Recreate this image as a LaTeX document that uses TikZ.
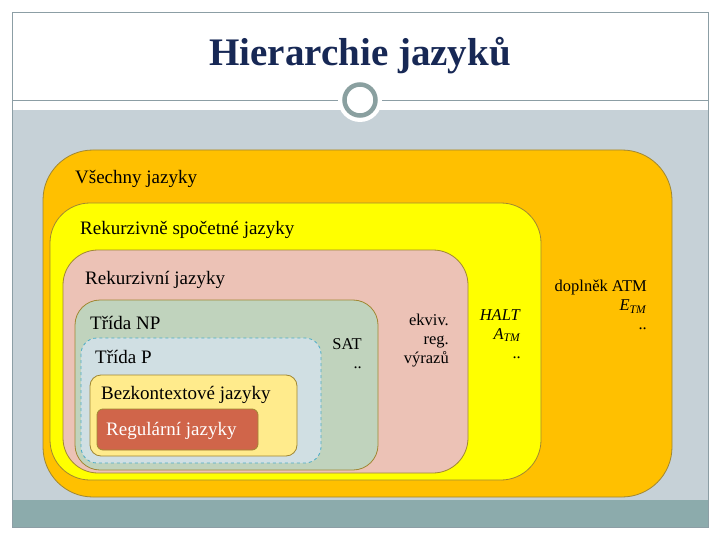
\documentclass[tikz,border=0pt]{standalone}
\usepackage{fontspec}
\usepackage{tikz}
\usepackage{xcolor}
\setmainfont{Liberation Serif}
\definecolor{navy}{RGB}{23,40,85}
\definecolor{frame}{RGB}{140,158,165}
\definecolor{band}{RGB}{198,209,215}
\definecolor{teal}{RGB}{140,171,172}
\definecolor{ring}{RGB}{138,160,160}
\definecolor{edge}{RGB}{160,135,50}
\definecolor{orange}{RGB}{255,192,0}
\definecolor{yellow}{RGB}{255,255,0}
\definecolor{pink}{RGB}{236,194,182}
\definecolor{sage}{RGB}{192,211,189}
\definecolor{pale}{RGB}{208,223,227}
\definecolor{cream}{RGB}{255,235,140}
\definecolor{brick}{RGB}{208,101,74}
\definecolor{cyan}{RGB}{75,172,198}

\begin{document}
\begin{tikzpicture}[x=1pt,y=-1pt,
    region/.style={draw=edge,line width=0.8pt},
    big/.style={anchor=west,font=\fontsize{19}{22}\selectfont,inner sep=0pt},
    small/.style={anchor=north east,align=right,font=\fontsize{16.5}{19}\selectfont,inner sep=0pt}]
                \useasboundingbox (0,0) rectangle (720,540);
                
                % Slide
                \fill[white] (0,0) rectangle (720,540);
                \fill[band] (12,110) rectangle (708,500);
                \fill[teal] (12,500) rectangle (708,527);
                \draw[frame,line width=0.8pt] (12,12) rectangle (708,527);
                \draw[frame,line width=0.8pt] (12,100) -- (708,100);
                
                % Title
                \node[font=\fontsize{39}{43}\selectfont\bfseries,text=navy] (title) at (360,56) {Hierarchie jazyků};
                
                % Ring
                \fill[white] (360,100) circle (22);
                \draw[ring,line width=4.5pt] (360,100) circle (15.5);
                
                % Regions
                \fill[orange,region,rounded corners=50pt] (43,150) rectangle (672,497);
                \fill[yellow,region,rounded corners=40pt] (50,203) rectangle (541,480);
                \fill[pink,region,rounded corners=35pt] (63,250) rectangle (468,473);
                \fill[sage,region,rounded corners=25pt] (75,300) rectangle (378,470);
                \fill[pale,draw=cyan,dashed,line width=0.8pt,rounded corners=16pt] (81,338) rectangle (321,463);
                \fill[cream,region,rounded corners=11pt] (90,375) rectangle (297,456);
                \fill[brick,region,rounded corners=6pt] (97,409) rectangle (258,450);
                
                % Labels
                \node[big] (all) at (75,179) {Všechny jazyky};
                \node[big] (re) at (80,230) {Rekurzivně spočetné jazyky};
                \node[big] (rec) at (85,280) {Rekurzivní jazyky};
                \node[big] (np) at (90,323) {Třída NP};
                \node[big] (p) at (95,357) {Třída P};
                \node[big] (cf) at (101,395) {Bezkontextové jazyky};
                \node[big,text=white] (reg) at (106,431) {Regulární jazyky};
                
                % Examples
                \node[small] (sat) at (362,338) {SAT\\..};
                \node[small] (eqre) at (449,314) {ekviv.\\reg.\\výrazů};
                \node[small] (halt) at (521,309) {\textit{HALT}\\\textit{A}\textsubscript{\textit{TM}}\\..};
                \node[small] (coatm) at (647,280) {doplněk ATM\\\textit{E}\textsubscript{\textit{TM}}\\..};
            \end{tikzpicture}
\end{document}
